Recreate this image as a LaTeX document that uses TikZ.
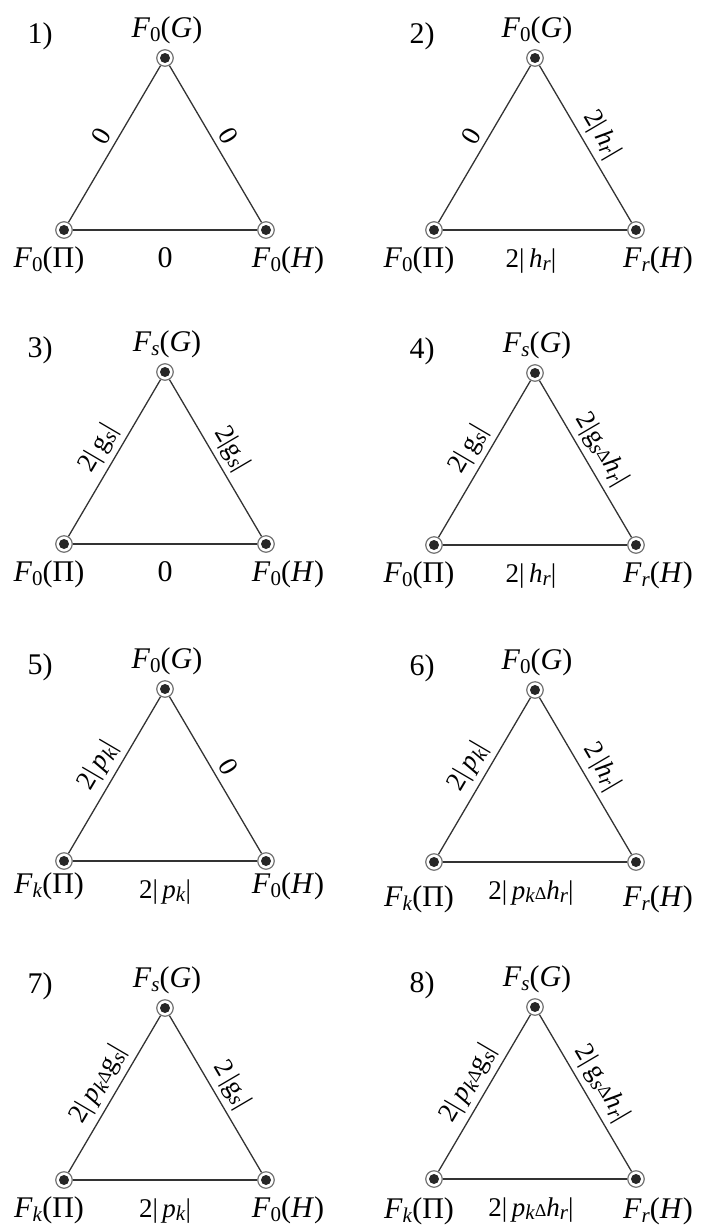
\documentclass[tikz,border=0pt]{standalone}
\usepackage{fontspec}
\setmainfont{Liberation Serif}
\usetikzlibrary{calc}
\newcommand\mylo[1]{\raisebox{-0.32ex}{\fontsize{21}{21}\selectfont #1}}
\newcommand\mydl{{\fontsize{18}{18}\selectfont Δ}}
\newcommand\myFG[1]{\textit{F}\mylo{#1}(\textit{G})}
\newcommand\myFP[1]{\textit{F}\mylo{#1}(Π)}
\newcommand\myFH[1]{\textit{F}\mylo{#1}(\textit{H})}
\newcommand\myhr{\textit{h}\mylo{\textit{r}}}
\newcommand\mygs{g\mylo{\textit{s}}}
\newcommand\mypk{\textit{p}\mylo{\textit{k}}}
\tikzset{
 vtx/.style={circle, draw=black!55, line width=1.2pt, fill=white, minimum size=16.5pt, inner sep=0pt,
   path picture={\fill[black!85] (path picture bounding box.center) circle (5pt);}},
 edge/.style={draw=black!80, line width=1.3pt},
 lab/.style={font=\fontsize{30}{32}\selectfont, inner sep=0pt},
 mlab/.style={font=\fontsize{27}{30}\selectfont, inner sep=0pt},
 elab/.style={font=\fontsize{27}{30}\selectfont, inner sep=2pt},
}
\def\numdx{-125}\def\bdx{0}\def\vb{37}
% \tri{prefix}{x}{y}{number}{top}{left}{right}
\newcommand\tri[7]{%
 \node[vtx] (#1T) at (#2,#3) {};
 \node[vtx] (#1L) at (#2-101,#3+172) {};
 \node[vtx] (#1R) at (#2+101,#3+172) {};
 \draw[edge] (#1T) -- (#1L);
 \draw[edge] (#1L) -- (#1R);
 \draw[edge] (#1R) -- (#1T);
 \node[lab, anchor=base] (#1num) at ($(#1T)+(\numdx,-15)$) {#4)};
 \node[lab, anchor=base] (#1tl) at ($(#1T)+(2,-21)$) {#5};
 \node[lab, anchor=base] (#1ll) at ($(#1L)+(-15,\vb)$) {#6};
 \node[lab, anchor=base] (#1rl) at ($(#1R)+(22,\vb)$) {#7};
}
% \elabs{prefix}{left edge}{right edge}{bottom edge}
\newcommand\elabs[4]{%
 \path (#1L) -- node[elab, sloped, above=4pt] (#1el) {#2} (#1T);
 \path (#1T) -- node[elab, sloped, above=4pt] (#1er) {#3} (#1R);
 \node[mlab, anchor=base] (#1eb) at ($(#1T |- #1L)+(\bdx,37)$) {#4};
}
\begin{document}
\begin{tikzpicture}[x=1pt,y=-1pt]
\useasboundingbox (0,0) rectangle (701,1227);
% column 1
\def\numdx{-125}\def\bdx{0}
\tri{a}{165}{58}{1}{\myFG{0}}{\myFP{0}}{\myFH{0}}
\elabs{a}{0}{0}{\fontsize{30}{32}\selectfont 0}
\tri{c}{165}{372}{3}{\myFG{\textit{s}}}{\myFP{0}}{\myFH{0}}
\elabs{c}{2|\,\mygs|}{2|\mygs|}{\fontsize{30}{32}\selectfont 0}
\def\vb{32}
\tri{e}{165}{689}{5}{\myFG{0}}{\myFP{\textit{k}}}{\myFH{0}}
\elabs{e}{2|\,\mypk|}{0}{2|\,\mypk|}
\def\vb{37}
\tri{g}{165}{1008}{7}{\myFG{\textit{s}}}{\myFP{\textit{k}}}{\myFH{0}}
\elabs{g}{2|\,\mypk\mydl\mygs|}{2\,|\mygs|}{2|\,\mypk|}
% column 2
\def\numdx{-113}\def\bdx{-4}
\tri{b}{535}{58}{2}{\myFG{0}}{\myFP{0}}{\myFH{\textit{r}}}
\elabs{b}{0}{2|\,\myhr|}{2|\,\myhr|}
\tri{d}{535}{373}{4}{\myFG{\textit{s}}}{\myFP{0}}{\myFH{\textit{r}}}
\elabs{d}{2|\,\mygs|}{2|\mygs\mydl\myhr|}{2|\,\myhr|}
\def\vb{44}
\tri{f}{535}{690}{6}{\myFG{0}}{\myFP{\textit{k}}}{\myFH{\textit{r}}}
\elabs{f}{2|\,\mypk|}{2\,|\myhr|}{2|\,\mypk\mydl\myhr|}
\def\vb{39}
\tri{h}{535}{1007}{8}{\myFG{\textit{s}}}{\myFP{\textit{k}}}{\myFH{\textit{r}}}
\elabs{h}{2|\,\mypk\mydl\mygs|}{2|\,\mygs\mydl\myhr|}{2|\,\mypk\mydl\myhr|}
\end{tikzpicture}
\end{document}
